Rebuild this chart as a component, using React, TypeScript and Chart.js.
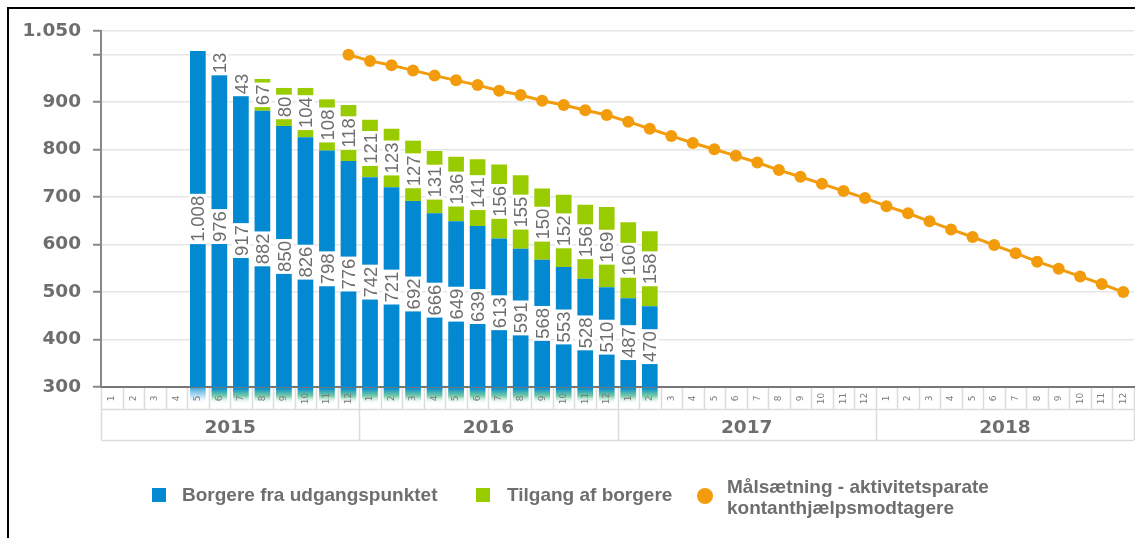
import React, { useEffect, useRef } from 'react';
import { Chart, registerables } from 'chart.js';

Chart.register(...registerables);

// ---------- DATA ----------
const years = ['2015', '2016', '2017', '2018'];
const months = ['1', '2', '3', '4', '5', '6', '7', '8', '9', '10', '11', '12'];

// Borgere fra udgangspunktet — one entry per month, 2015-1 … 2018-12
const borgereUdgangspunkt: (number | null)[] = [
  null, null, null, null, 1008, 976, 917, 882, 850, 826, 798, 776,
  742, 721, 692, 666, 649, 639, 613, 591, 568, 553, 528, 510,
  487, 470, null, null, null, null, null, null, null, null, null, null,
  null, null, null, null, null, null, null, null, null, null, null, null,
];

// Tilgang af borgere
const tilgangAfBorgere: (number | null)[] = [
  null, null, null, null, null, 13, 43, 67, 80, 104, 108, 118,
  121, 123, 127, 131, 136, 141, 156, 155, 150, 152, 156, 169,
  160, 158, null, null, null, null, null, null, null, null, null, null,
  null, null, null, null, null, null, null, null, null, null, null, null,
];

// Målsætning - aktivitetsparate kontanthjælpsmodtagere
const maalsaetning: (number | null)[] = [
  null, null, null, null, null, null, null, null, null, null, null, 1000,
  987, 978, 967, 956, 946, 936, 924, 915, 903, 894, 883, 873,
  859, 844, 829, 814, 801, 787, 773, 757, 743, 728, 713, 698,
  681, 666, 649, 632, 616, 599, 582, 564, 549, 533, 517, 500,
];

const yTickValues = [300, 400, 500, 600, 700, 800, 900, 1000, 1050];
const hiddenYTickLabels = [1000];

const seriesNames = [
  'Borgere fra udgangspunktet',
  'Tilgang af borgere',
  ['Målsætning - aktivitetsparate', 'kontanthjælpsmodtagere'],
];

// ---------- STYLE ----------
const BLUE = '#0289d1';
const GREEN = '#99cc00';
const ORANGE = '#f29c0c';
const TEXT = '#6e6e6e';

const categories: string[] = [];
years.forEach((y) => months.forEach((m) => categories.push(`${y}-${m}`)));

const fmt = (v: number) => String(v).replace(/\B(?=(\d{3})+(?!\d))/g, '.');

const barLabelsPlugin = {
  id: 'barLabels',
  afterDatasetsDraw(chart: any) {
    const ctx = chart.ctx as CanvasRenderingContext2D;
    const area = chart.chartArea;
    ctx.save();
    const fs = 18.5;
    ctx.font = `${fs}px "Liberation Sans", Arial, sans-serif`;
    ctx.textAlign = 'center';
    ctx.textBaseline = 'alphabetic';
    [0, 1].forEach((di) => {
      const meta = chart.getDatasetMeta(di);
      const data = chart.data.datasets[di].data;
      meta.data.forEach((el: any, i: number) => {
        const v = data[i];
        if (v == null) return;
        const { x, y, base } = el.getProps(['x', 'y', 'base'], true);
        const b = Math.min(base, area.bottom);
        const cy = (y + b) / 2;
        const text = fmt(v);
        const tw = ctx.measureText(text).width;
        ctx.save();
        ctx.translate(x, cy);
        ctx.rotate(-Math.PI / 2);
        ctx.fillStyle = '#ffffff';
        ctx.fillRect(-tw / 2 - 2, -9, tw + 4, 18);
        ctx.fillStyle = TEXT;
        ctx.fillText(text, 0, (fs * 0.716) / 2);
        ctx.restore();
      });
    });
    ctx.restore();
  },
};

const xCellsPlugin = {
  id: 'xCells',
  afterDraw(chart: any) {
    const ctx = chart.ctx as CanvasRenderingContext2D;
    const area = chart.chartArea;
    const xs = chart.scales.x;
    const n = categories.length;
    const left = area.left;
    const right = area.right;
    const w = (right - left) / n;
    const top = area.bottom + 1;
    const monthBottom = top + 21;
    const yearBottom = monthBottom + 31;
    ctx.save();

    // bar continuation gradient below axis
    const meta0 = chart.getDatasetMeta(0);
    meta0.data.forEach((el: any, i: number) => {
      if (borgereUdgangspunkt[i] == null) return;
      const bw = el.width;
      const cx = xs.getPixelForValue(i);
      const g = ctx.createLinearGradient(0, top, 0, top + 16);
      const hasGreen = tilgangAfBorgere[i] != null;
      g.addColorStop(0, hasGreen ? BLUE : 'rgba(2,137,209,0.75)');
      g.addColorStop(0.5, hasGreen ? 'rgba(60,180,130,0.7)' : 'rgba(120,190,235,0.5)');
      g.addColorStop(1, 'rgba(255,255,255,0)');
      ctx.fillStyle = g;
      ctx.fillRect(cx - bw / 2, top, bw, 16);
    });

    // cell borders
    ctx.strokeStyle = '#dcdcdc';
    ctx.lineWidth = 1.5;
    ctx.beginPath();
    for (let i = 0; i <= n; i++) {
      const x = Math.round(left + i * w) + 0.5;
      ctx.moveTo(x, top);
      ctx.lineTo(x, monthBottom);
    }
    for (let k = 0; k <= years.length; k++) {
      const x = Math.round(left + k * 12 * w) + 0.5;
      ctx.moveTo(x, monthBottom);
      ctx.lineTo(x, yearBottom);
    }
    ctx.moveTo(left, monthBottom + 0.5);
    ctx.lineTo(right, monthBottom + 0.5);
    ctx.moveTo(left, yearBottom + 0.5);
    ctx.lineTo(right, yearBottom + 0.5);
    ctx.stroke();

    // month labels
    ctx.fillStyle = '#7a7a7a';
    ctx.font = '9px "DejaVu Sans", Verdana, sans-serif';
    ctx.textAlign = 'center';
    ctx.textBaseline = 'middle';
    categories.forEach((c, i) => {
      const cx = xs.getPixelForValue(i);
      ctx.save();
      ctx.translate(cx, top + 10.5);
      ctx.rotate(-Math.PI / 2);
      ctx.fillText(months[i % 12], 0, 0);
      ctx.restore();
    });

    // year labels
    ctx.fillStyle = TEXT;
    ctx.font = 'bold 18.5px "DejaVu Sans", Verdana, sans-serif';
    ctx.textBaseline = 'alphabetic';
    years.forEach((y, k) => {
      const cx = left + (k * 12 + 6) * w;
      ctx.fillText(y, cx, monthBottom + 23.5);
    });
    ctx.restore();
  },
};

export default function App() {
  const ref = useRef<HTMLCanvasElement | null>(null);

  useEffect(() => {
    if (!ref.current) return;
    const chart = new Chart(ref.current, {
      type: 'bar',
      data: {
        labels: categories,
        datasets: [
          {
            type: 'bar',
            label: seriesNames[0] as string,
            data: borgereUdgangspunkt,
            backgroundColor: BLUE,
            stack: 'bars',
            barPercentage: 0.73,
            categoryPercentage: 1,
            order: 2,
          },
          {
            type: 'bar',
            label: seriesNames[1] as string,
            data: tilgangAfBorgere,
            backgroundColor: GREEN,
            stack: 'bars',
            barPercentage: 0.73,
            categoryPercentage: 1,
            order: 2,
          },
          {
            type: 'line',
            label: (seriesNames[2] as string[]).join(' '),
            data: maalsaetning,
            borderColor: ORANGE,
            backgroundColor: ORANGE,
            borderWidth: 3,
            pointRadius: 6,
            pointBorderWidth: 0,
            pointBackgroundColor: ORANGE,
            stack: 'line',
            order: 1,
          } as any,
        ],
      },
      options: {
        animation: false,
        responsive: false,
        maintainAspectRatio: false,
        devicePixelRatio: 1,
        layout: { padding: { left: 0, top: 31, right: 2, bottom: 0 } },
        plugins: {
          legend: { display: false },
          tooltip: { enabled: false },
        },
        scales: {
          x: {
            stacked: true,
            offset: true,
            grid: { display: false, drawTicks: false },
            ticks: { display: false },
            border: { display: true, color: '#777777', width: 2 },
            afterFit: (s: any) => {
              s.height = 151;
            },
          },
          y: {
            stacked: true,
            min: 300,
            max: 1050,
            afterBuildTicks: (s: any) => {
              s.ticks = yTickValues.map((v) => ({ value: v }));
            },
            afterFit: (s: any) => {
              s.width = 101;
            },
            ticks: {
              padding: 12,
              color: TEXT,
              font: { family: '"DejaVu Sans", Verdana, sans-serif', weight: 'bold', size: 18.5 },
              callback: (v: any) => (hiddenYTickLabels.includes(Number(v)) ? '' : fmt(Number(v))),
            },
            grid: {
              color: '#e6e6e6',
              lineWidth: 1.5,
              tickColor: '#888888',
              tickLength: 8,
              tickWidth: 2,
            },
            border: { display: true, color: '#888888', width: 2 },
          },
        },
      } as any,
      plugins: [barLabelsPlugin, xCellsPlugin],
    });
    return () => chart.destroy();
  }, []);

  const legendFont = 'bold 19px "Liberation Sans", Arial, sans-serif';

  return (
    <div
      style={{
        position: 'fixed',
        left: 0,
        top: 0,
        width: 1135,
        height: 538,
        overflow: 'hidden',
        background: '#ffffff',
      }}
    >
      <canvas
        ref={ref}
        width={1140}
        height={538}
        style={{ position: 'absolute', left: 0, top: 0, width: 1140, height: 538, display: 'block' }}
      />
      <div
        style={{
          position: 'absolute',
          left: 7,
          top: 7,
          width: 1200,
          height: 600,
          borderLeft: '2px solid #000',
          borderTop: '2px solid #000',
          pointerEvents: 'none',
        }}
      />
      {/* Legend */}
      <div style={{ position: 'absolute', left: 152, top: 488, width: 14, height: 14, background: BLUE }} />
      <div
        style={{
          position: 'absolute',
          left: 182,
          top: 484,
          font: legendFont,
          lineHeight: '22px',
          color: TEXT,
          whiteSpace: 'nowrap',
        }}
      >
        {seriesNames[0] as string}
      </div>
      <div style={{ position: 'absolute', left: 476, top: 488, width: 14, height: 14, background: GREEN }} />
      <div
        style={{
          position: 'absolute',
          left: 507,
          top: 484,
          font: legendFont,
          lineHeight: '22px',
          color: TEXT,
          whiteSpace: 'nowrap',
        }}
      >
        {seriesNames[1] as string}
      </div>
      <div
        style={{
          position: 'absolute',
          left: 697,
          top: 488,
          width: 16,
          height: 16,
          borderRadius: '50%',
          background: ORANGE,
        }}
      />
      <div
        style={{
          position: 'absolute',
          left: 727,
          top: 476,
          font: legendFont,
          lineHeight: '21px',
          color: TEXT,
          whiteSpace: 'nowrap',
        }}
      >
        {(seriesNames[2] as string[]).map((t, i) => (
          <div key={i}>{t}</div>
        ))}
      </div>
    </div>
  );
}
